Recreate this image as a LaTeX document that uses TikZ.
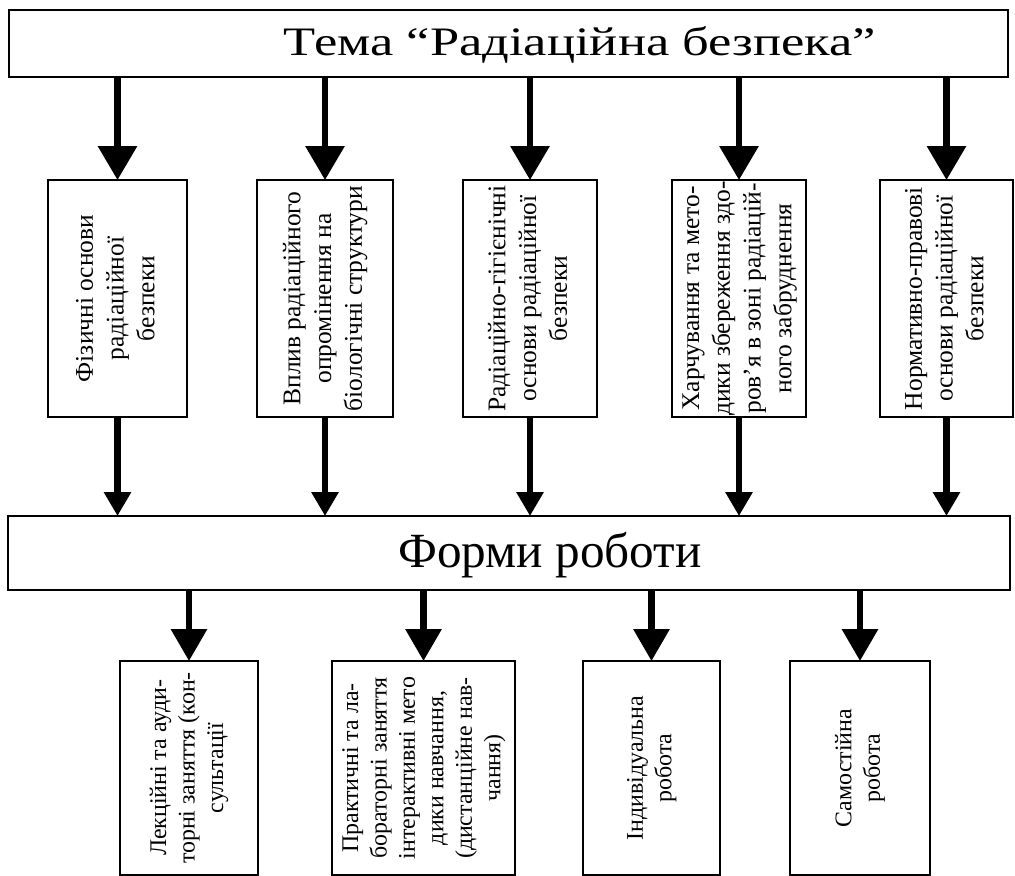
\documentclass[tikz,border=0pt]{standalone}
\usepackage{fontspec}
\setmainfont{Liberation Serif}
\usepackage{graphicx}
\usetikzlibrary{arrows.meta}

% text turned to read from bottom to top
\newcommand{\vtext}[1]{\rotatebox{90}{\begin{tabular}{@{}c@{}}#1\end{tabular}}}

\begin{document}
\begin{tikzpicture}[x=0.02cm,y=-0.02cm,
	box/.style={draw,line width=1.4pt,inner sep=0pt,outer sep=0pt},
	topbox/.style={box,minimum height=4.74cm,font=\fontsize{14.5}{17.5}\selectfont},
	lowbox/.style={box,minimum height=4.28cm,font=\fontsize{13.6}{16.2}\selectfont},
	bigfont/.style={font=\fontsize{23}{28}\selectfont,inner sep=0pt,anchor=base},
	arr/.style={line width=3.6pt},
	toparr/.style={arr,-{Triangle[width=0.76cm,length=0.68cm]}},
	midarr/.style={arr,-{Triangle[width=0.52cm,length=0.48cm]}},
	lowarr/.style={arr,-{Triangle[width=0.70cm,length=0.64cm]}}]
	\useasboundingbox (0,0) rectangle (1015,876);
	
	% heading
	\node[box,minimum width=19.98cm,minimum height=1.34cm] (tema) at (508.5,43.5) {};
	\node[bigfont] (temalabel) at (580,55) {\scalebox{1.3}[1]{Тема “Радіаційна безпека”}};
	
	% parts of the topic
	\node[topbox,minimum width=2.78cm] (fiz) at (117.5,298.5) {\vtext{Фізичні основи\\радіаційної\\безпеки}};
	\node[topbox,minimum width=2.72cm] (vplyv) at (325,298.5) {\vtext{Вплив радіаційного\\опромінення на\\біологічні структури}};
	\node[topbox,minimum width=2.68cm] (hig) at (530,298.5) {\vtext{Радіаційно-гігієнічні\\основи радіаційної\\безпеки}};
	\node[topbox,minimum width=2.68cm] (harch) at (739,298.5) {\vtext{Харчування та мето-\\дики збереження здо-\\ров’я в зоні радіацій-\\ного забруднення}};
	\node[topbox,minimum width=2.66cm] (norm) at (946.5,298.5) {\vtext{Нормативно-правові\\основи радіаційної\\безпеки}};
	
	% forms of work
	\node[box,minimum width=20.04cm,minimum height=1.48cm] (formy) at (509,553) {};
	\node[bigfont,font=\fontsize{28}{33}\selectfont] (formylabel) at (550,567) {Форми роботи};
	
	\node[lowbox,minimum width=2.76cm] (lek) at (189,768) {\vtext{Лекційні та ауди-\\торні заняття (кон-\\сультації}};
	\node[lowbox,minimum width=3.66cm] (prak) at (423.5,768) {\vtext{Практичні та ла-\\бораторні заняття\\інтерактивні мето\\дики навчання,\\(дистанційне нав-\\чання)}};
	\node[lowbox,minimum width=2.74cm] (ind) at (651.5,768) {\vtext{Індивідуальна\\робота}};
	\node[lowbox,minimum width=2.80cm] (sam) at (860,768) {\vtext{Самостійна\\робота}};
	
	% arrows
	\foreach \b in {fiz,vplyv,hig,harch,norm}{
		\draw[toparr] (tema.south -| \b.north) -- (\b.north);
		\draw[midarr] (\b.south) -- (\b.south |- formy.north);
	}
	\foreach \b in {lek,prak,ind,sam}
		\draw[lowarr] (formy.south -| \b.north) -- (\b.north);
\end{tikzpicture}
\end{document}
